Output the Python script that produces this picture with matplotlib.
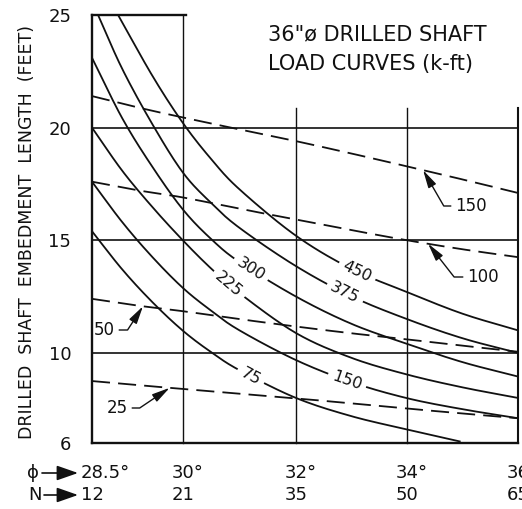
import numpy as np
import matplotlib
matplotlib.use("Agg")
import matplotlib.pyplot as plt

# x axis: friction angle phi (deg) and the matching SPT blow count N
phi_ticks = [28.5, 30, 32, 34, 36]
n_ticks = [12, 21, 35, 50, 65]
length_ticks = [6, 10, 15, 20, 25]

# solid load curves (k-ft): embedment length (ft) at each phi
loads = [75, 150, 225, 300, 375, 450]
phi_75 = [28.5, 29, 29.5, 30, 30.5, 31, 32, 33, 34, 34.95]
len_75 = [15.4, 13.7, 12.24, 10.98, 10.03, 9.23, 8.0, 7.19, 6.6, 6.07]
phi_full = [28.5, 29, 29.5, 30, 30.5, 31, 32, 33, 34, 35, 36]
len_150 = [17.6, 15.8, 14.24, 12.88, 11.87, 11.0, 9.68, 8.7, 7.99, 7.5, 7.1]
len_225 = [20.0, 18.08, 16.46, 14.99, 13.74, 12.65, 10.88, 9.78, 9.04, 8.47, 8.0]
len_300 = [23.1, 20.41, 18.24, 16.36, 15.05, 14.03, 12.5, 11.29, 10.4, 9.59, 8.95]
phi_375 = [28.6, 29, 29.5, 30, 30.5, 31, 32, 33, 34, 35, 36]
len_375 = [25.0, 22.6, 20.13, 18.0, 16.65, 15.55, 13.85, 12.51, 11.5, 10.65, 10.0]
phi_450 = [28.93, 29.5, 30, 30.5, 31, 32, 33, 34, 35, 36]
len_450 = [25.0, 22.28, 20.2, 18.6, 17.26, 15.2, 13.73, 12.7, 11.74, 11.0]
label_phi = [31.2, 32.92, 30.81, 31.2, 32.88, 33.1]

# dashed curves (k-ft)
dash_loads = [25, 50, 100, 150]
phi_dash = [28.5, 29.25, 30, 31, 32, 33, 34, 35, 36]
len_d25 = [8.75, 8.57, 8.4, 8.19, 7.98, 7.76, 7.53, 7.31, 7.1]
len_d50 = [12.4, 12.1, 11.85, 11.5, 11.17, 10.87, 10.6, 10.32, 10.05]
len_d100 = [17.6, 17.22, 16.9, 16.4, 15.92, 15.45, 15.0, 14.6, 14.25]
len_d150 = [21.4, 20.9, 20.45, 19.92, 19.4, 18.85, 18.28, 17.7, 17.1]
dash_tip_phi = [29.78, 29.34, 34.38, 34.29]

W, H = 522, 509
INK = "#111111"

# the phi axis is hand drawn: first column wider than the others
col_px = [0, 91, 204, 315, 426]


def fwd(v):
    return np.interp(v, phi_ticks, col_px)


def inv(v):
    return np.interp(v, col_px, phi_ticks)


def smooth(xs, ys, n=16):
    # Catmull-Rom through the read points (in drawn-axis units), only for drawing
    x = fwd(np.asarray(xs, float))
    y = np.asarray(ys, float) * 22.6
    px = np.concatenate([[2 * x[0] - x[1]], x, [2 * x[-1] - x[-2]]])
    py = np.concatenate([[2 * y[0] - y[1]], y, [2 * y[-1] - y[-2]]])
    t = np.linspace(0, 1, n, endpoint=False)[:, None]
    ox, oy = [], []
    for i in range(1, len(px) - 2):
        for arr, out in ((px, ox), (py, oy)):
            p0, p1, p2, p3 = arr[i - 1:i + 3]
            seg = 0.5 * ((2 * p1) + (-p0 + p2) * t + (2 * p0 - 5 * p1 + 4 * p2 - p3) * t ** 2
                         + (-p0 + 3 * p1 - 3 * p2 + p3) * t ** 3)
            out.extend(seg.ravel())
    ox.append(x[-1])
    oy.append(y[-1])
    return inv(np.array(ox)), np.array(oy) / 22.6


fig = plt.figure(figsize=(W / 100, H / 100), dpi=100)
ax = fig.add_axes([92 / W, 1 - 443 / H, 426 / W, 428 / H])
ax.set_xscale("function", functions=(fwd, inv))
ax.set_xlim(28.5, 36)
ax.set_ylim(6, 25)
for s in ax.spines.values():
    s.set_visible(False)
ax.set_xticks([])
ax.set_yticks(length_ticks)
ax.set_yticklabels([str(v) for v in length_ticks], fontsize=13, color=INK)
ax.tick_params(axis="y", length=0, pad=15)

# frame and grid
top_right = 20.85
ax.plot([28.5, 28.5], [6, 25], color=INK, lw=1.7, clip_on=False)
ax.plot([28.5, 36], [6, 6], color=INK, lw=1.7, clip_on=False)
ax.plot([28.45, 30.05], [25, 25], color=INK, lw=1.7, clip_on=False)
ax.plot([30, 30], [6, 25], color=INK, lw=1.0, clip_on=False)
for p in phi_ticks[2:4]:
    ax.plot([p, p], [6, top_right], color=INK, lw=1.0, clip_on=False)
ax.plot([36, 36], [6, top_right], color=INK, lw=1.5, clip_on=False)
for v in length_ticks[1:4]:
    ax.plot([28.5, 36], [v, v], color=INK, lw=1.2, clip_on=False)

# solid load curves with inline labels
solid = [(phi_75, len_75), (phi_full, len_150), (phi_full, len_225),
         (phi_full, len_300), (phi_375, len_375), (phi_450, len_450)]
for (ph, ln), load, lp in zip(solid, loads, label_phi):
    sx, sy = smooth(ph, ln)
    ax.plot(sx, sy, color=INK, lw=1.3)
    yl = np.interp(lp, sx, sy)
    a = ax.transData.transform((lp - 0.15, np.interp(lp - 0.15, sx, sy)))
    b = ax.transData.transform((lp + 0.15, np.interp(lp + 0.15, sx, sy)))
    ang = np.degrees(np.arctan2(b[1] - a[1], b[0] - a[0]))
    ax.text(lp, yl, str(load), rotation=ang, rotation_mode="anchor", ha="center",
            va="center", fontsize=11.5, color=INK, zorder=4,
            bbox=dict(boxstyle="square,pad=0.3", fc="white", ec="none"))

# dashed curves
dashed = [len_d25, len_d50, len_d100, len_d150]
for ln in dashed:
    sx, sy = smooth(phi_dash, ln)
    ax.plot(sx, sy, color=INK, lw=1.3, dashes=(10, 4.5))

# leader labels for the dashed curves: (text pos in px, ha, angleB)
leaders = [((128, 408), "right", 34), ((115, 330), "right", 57),
           ((467, 277), "left", 128), ((455, 206), "left", 120)]
for ln, load, tp, (pos, ha, angB) in zip(dashed, dash_loads, dash_tip_phi, leaders):
    ax.annotate(str(load), xy=(tp, np.interp(tp, phi_dash, ln)), xycoords="data",
                xytext=(pos[0], H - pos[1]), textcoords="figure pixels",
                ha=ha, va="center", fontsize=12, color=INK, annotation_clip=False,
                arrowprops=dict(arrowstyle="-|>,head_length=0.9,head_width=0.22",
                                connectionstyle=f"angle,angleA=0,angleB={angB},rad=0",
                                relpos=(1, 0.5) if ha == "right" else (0, 0.5),
                                shrinkA=1, shrinkB=0, lw=1.0, color=INK,
                                mutation_scale=12))

# phi / N tick rows under the axis (last column runs off the page, as in the source)
for p, n in zip(phi_ticks, n_ticks):
    ax.annotate(f"{p:g}°", xy=(p, 0), xycoords=("data", "axes fraction"),
                xytext=(-8, -21.6), textcoords="offset points", ha="left",
                va="center", fontsize=13, color=INK, annotation_clip=False)
    ax.annotate(str(n), xy=(p, 0), xycoords=("data", "axes fraction"),
                xytext=(-8, -37.4), textcoords="offset points", ha="left",
                va="center", fontsize=13, color=INK, annotation_clip=False)
for sym, y, x0 in (("ϕ", 473, 33), ("N", 495, 35)):
    fig.text(x0 / W, 1 - y / H, sym, ha="center", va="center", fontsize=13, color=INK)
    ax.annotate("", xy=(78, H - y), xytext=(42 if sym == "ϕ" else 44, H - y),
                xycoords="figure pixels", textcoords="figure pixels",
                annotation_clip=False,
                arrowprops=dict(arrowstyle="-|>,head_length=1.0,head_width=0.35",
                                lw=1.2, color=INK, mutation_scale=13, shrinkA=0, shrinkB=0))

fig.text(27 / W, 1 - 232 / H, "DRILLED  SHAFT  EMBEDMENT  LENGTH  (FEET)", rotation=90,
         ha="center", va="center", fontsize=12.5, color=INK)
fig.text(268 / W, 1 - 40 / H, '36"ø DRILLED SHAFT', ha="left", va="baseline",
         fontsize=15, color=INK)
fig.text(268 / W, 1 - 70 / H, "LOAD CURVES (k-ft)", ha="left", va="baseline",
         fontsize=15, color=INK)

fig.savefig("out.png", dpi=100, facecolor="white")
